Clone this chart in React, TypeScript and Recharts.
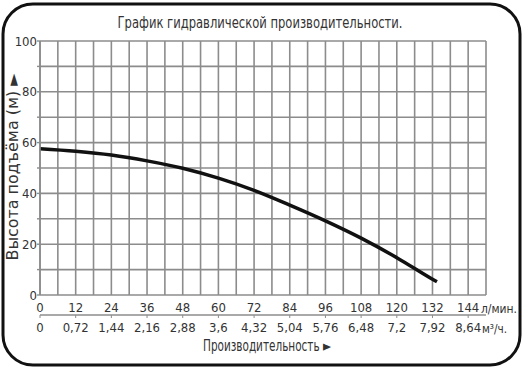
import React from "react";
import { LineChart, Line, XAxis, YAxis, CartesianGrid } from "recharts";

// расход, л/мин
const flow: number[] = [0, 12, 24, 36, 48, 60, 72, 84, 96, 108, 120, 132, 133.5];
// напор, м
const head: number[] = [57.6, 56.6, 55.1, 52.8, 49.9, 46.0, 41.2, 35.4, 29.2, 22.4, 14.7, 6.2, 5.2];

const gridTicksX: number[] = [
  0, 6, 12, 18, 24, 30, 36, 42, 48, 54, 60, 66, 72, 78, 84, 90, 96, 102, 108, 114, 120, 126, 132, 138, 144, 150,
];
const labelTicksX: number[] = [0, 12, 24, 36, 48, 60, 72, 84, 96, 108, 120, 132, 144];
const m3Labels: string[] = ["0", "0,72", "1,44", "2,16", "2,88", "3,6", "4,32", "5,04", "5,76", "6,48", "7,2", "7,92", "8,64"];
const ticksY: number[] = [0, 10, 20, 30, 40, 50, 60, 70, 80, 90, 100];

const data = flow.map((q, i) => ({ q, h: head[i] }));

const FONT = "'Liberation Sans Narrow', 'DejaVu Sans Condensed', 'Arial Narrow', sans-serif";
const GRID = "#8c8c8c";
const TXT = "#333";

const tickStyle = { fontFamily: FONT, fontSize: 13, fill: TXT };

export default function App() {
  return (
    <div style={{ position: "absolute", left: 0, top: 0, width: 531, height: 379, background: "#fff" }}>
      <LineChart width={531} height={379} data={data} margin={{ top: 41, right: 45, bottom: 0, left: 0 }}>
        <CartesianGrid stroke={GRID} strokeWidth={1.6} />
        <XAxis
          dataKey="q"
          type="number"
          domain={[0, 150]}
          ticks={gridTicksX}
          interval={0}
          height={20}
          axisLine={false}
          tickLine={false}
          tickSize={6}
          tickMargin={2}
          tick={tickStyle}
          tickFormatter={(v: number) => (v % 12 === 0 && v < 150 ? String(v) : "")}
        />
        <XAxis
          xAxisId="m3"
          dataKey="q"
          type="number"
          domain={[0, 150]}
          ticks={labelTicksX}
          interval={0}
          height={64}
          axisLine={{ stroke: GRID, strokeWidth: 1.6 }}
          tickLine={{ stroke: GRID }}
          tickSize={3}
          tickMargin={5}
          tick={tickStyle}
          tickFormatter={(v: number) => m3Labels[labelTicksX.indexOf(v)] ?? ""}
        />
        <YAxis
          type="number"
          domain={[0, 100]}
          ticks={ticksY}
          interval={0}
          width={40}
          axisLine={{ stroke: GRID, strokeWidth: 1.6 }}
          tickLine={{ stroke: GRID, strokeWidth: 1.4 }}
          tickSize={3}
          tickMargin={0}
          tick={tickStyle}
          tickFormatter={(v: number) => (v % 20 === 0 ? String(v) : "")}
        />
        <Line
          dataKey="h"
          type="monotone"
          stroke="#111"
          strokeWidth={3.5}
          dot={false}
          isAnimationActive={false}
        />
      </LineChart>
      <svg
        width={531}
        height={379}
        style={{ position: "absolute", left: 0, top: 0, pointerEvents: "none" }}
      >
        <rect x={3} y={4} width={517} height={361} rx={30} ry={30} fill="none" stroke="#111" strokeWidth={3} />
        <text x={260} y={28} textAnchor="middle" fontFamily={FONT} fontSize={15} fill={TXT} textLength={285} lengthAdjust="spacingAndGlyphs">
          График гидравлической производительности.
        </text>
        <text
          x={0}
          y={0}
          transform="translate(18,167) rotate(-90)"
          textAnchor="middle"
          fontFamily={FONT}
          fontSize={15}
          fill={TXT}
          textLength={187}
          lengthAdjust="spacingAndGlyphs"
        >
          Высота подъёма (м) ►
        </text>
        <text x={267} y={351} textAnchor="middle" fontFamily={FONT} fontSize={15} fill={TXT} textLength={128} lengthAdjust="spacingAndGlyphs">
          Производительность ►
        </text>
        <text x={481} y={313} fontFamily={FONT} fontSize={13} fill={TXT} textLength={36} lengthAdjust="spacingAndGlyphs">
          л/мин.
        </text>
        <text x={482} y={333} fontFamily={FONT} fontSize={13} fill={TXT} textLength={25} lengthAdjust="spacingAndGlyphs">
          м³/ч.
        </text>
      </svg>
    </div>
  );
}
